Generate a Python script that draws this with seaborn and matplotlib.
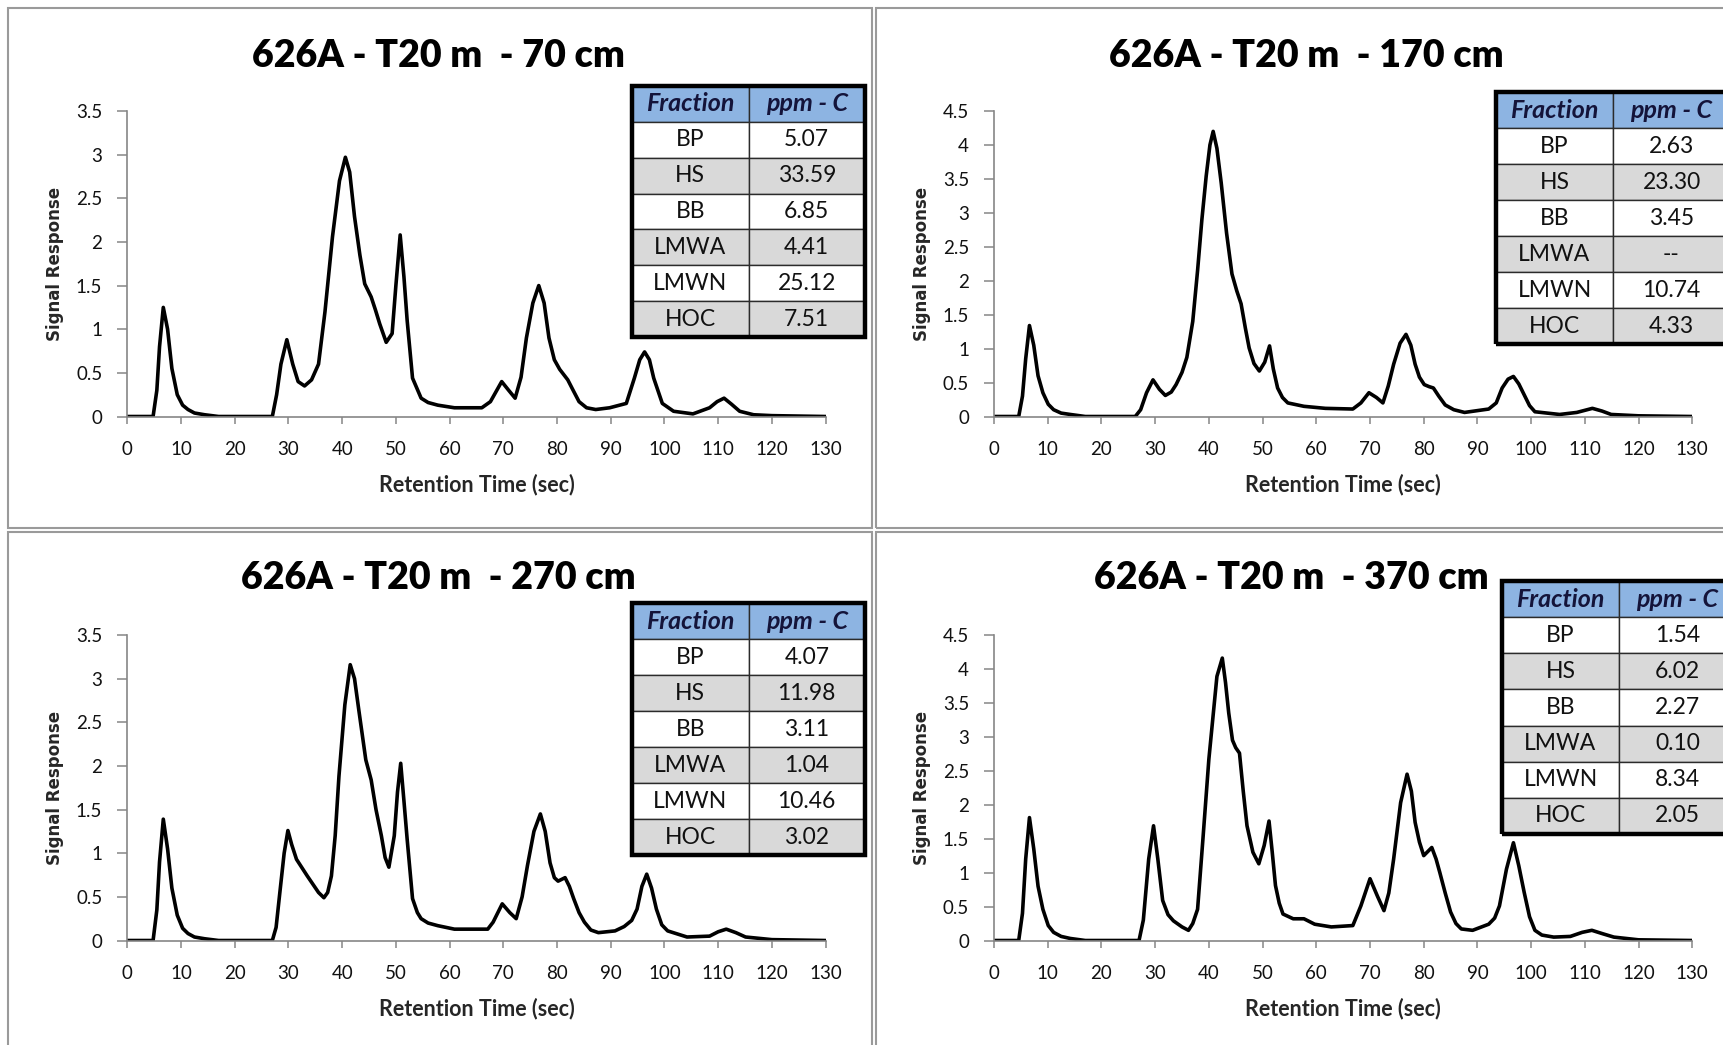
import matplotlib
matplotlib.use("Agg")
import matplotlib.pyplot as plt
from matplotlib.patches import Rectangle
from matplotlib.ticker import FuncFormatter
import seaborn as sns
import pandas as pd

# chromatogram traces: (retention time in s, signal response)
trace_70 = [(0, 0), (4.8, 0), (5.5, 0.3), (6.0, 0.8), (6.7, 1.25), (7.5, 1.0), (8.3, 0.55), (9.3, 0.25),
            (10.3, 0.13), (11.3, 0.08), (12.5, 0.04), (14.4, 0.02), (17, 0), (27, 0), (27.8, 0.25),
            (28.6, 0.6), (29.7, 0.88), (30.8, 0.6), (31.8, 0.4), (33.0, 0.35), (34.3, 0.42), (35.6, 0.6),
            (36.8, 1.2), (38.2, 2.06), (39.5, 2.7), (40.6, 2.97), (41.4, 2.8), (42.3, 2.29), (43.3, 1.85),
            (44.2, 1.52), (45.4, 1.37), (46.2, 1.22), (47.0, 1.06), (48.2, 0.85), (49.3, 0.95), (50.0, 1.5),
            (50.8, 2.08), (51.5, 1.6), (52.1, 1.1), (53.1, 0.44), (54.7, 0.21), (56, 0.16), (57.8, 0.13),
            (60.9, 0.10), (66.0, 0.10), (67.6, 0.17), (69.7, 0.40), (71.0, 0.3), (72.2, 0.21), (73.3, 0.45),
            (74.3, 0.9), (75.5, 1.3), (76.6, 1.5), (77.6, 1.3), (78.5, 0.9), (79.5, 0.65), (80.5, 0.54),
            (82.0, 0.42), (83.0, 0.3), (84.1, 0.17), (85.5, 0.1), (87.2, 0.08), (89.8, 0.1), (92.9, 0.15),
            (94.4, 0.44), (95.4, 0.65), (96.3, 0.74), (97.2, 0.65), (98.0, 0.44), (99.6, 0.15), (101.7, 0.06),
            (105.3, 0.03), (108.4, 0.1), (109.8, 0.17), (111.1, 0.21), (112.5, 0.14), (114.0, 0.06),
            (116.6, 0.02), (120, 0.01), (130, 0)]

trace_170 = [(0, 0), (4.6, 0), (5.3, 0.3), (5.9, 0.85), (6.6, 1.34), (7.4, 1.05), (8.2, 0.6), (9.1, 0.35),
             (10.1, 0.18), (11.1, 0.10), (12.5, 0.05), (14.2, 0.03), (17, 0), (26.3, 0), (27.3, 0.1),
             (28.4, 0.35), (29.6, 0.54), (30.8, 0.4), (31.9, 0.31), (33.0, 0.36), (33.9, 0.47), (35.0, 0.65),
             (35.9, 0.87), (37.0, 1.4), (37.9, 2.15), (38.7, 2.9), (39.5, 3.54), (40.2, 4.0), (40.8, 4.2),
             (41.5, 3.95), (42.3, 3.44), (43.3, 2.7), (44.3, 2.10), (45.2, 1.85), (46.0, 1.66), (46.8, 1.3),
             (47.5, 1.01), (48.4, 0.78), (49.4, 0.67), (50.4, 0.8), (51.3, 1.04), (52.0, 0.7), (52.8, 0.42),
             (53.7, 0.28), (54.7, 0.20), (57.7, 0.15), (61.7, 0.12), (66.8, 0.11), (68.3, 0.20), (69.8, 0.35),
             (71.2, 0.28), (72.4, 0.2), (73.4, 0.45), (74.4, 0.77), (75.6, 1.08), (76.7, 1.21), (77.6, 1.05),
             (78.4, 0.77), (79.2, 0.58), (80.1, 0.47), (81.0, 0.44), (81.8, 0.42), (82.8, 0.3), (84.0, 0.17),
             (85.6, 0.1), (87.6, 0.06), (92.1, 0.11), (93.5, 0.2), (94.6, 0.42), (95.7, 0.55), (96.7, 0.59),
             (97.7, 0.48), (98.7, 0.32), (99.7, 0.16), (100.7, 0.07), (105.3, 0.03), (108.5, 0.06),
             (111.4, 0.12), (113.2, 0.08), (114.9, 0.03), (120, 0.01), (130, 0)]

trace_270 = [(0, 0), (4.8, 0), (5.5, 0.35), (6.0, 0.9), (6.7, 1.39), (7.5, 1.05), (8.3, 0.6), (9.3, 0.29),
             (10.3, 0.14), (11.3, 0.08), (12.5, 0.04), (14.4, 0.02), (17, 0), (27, 0), (27.7, 0.15),
             (28.4, 0.55), (29.2, 1.0), (29.9, 1.26), (30.6, 1.1), (31.5, 0.93), (33.5, 0.74), (35.6, 0.55),
             (36.6, 0.49), (37.3, 0.55), (38.0, 0.74), (38.7, 1.2), (39.4, 1.88), (40.5, 2.7), (41.5, 3.16),
             (42.3, 3.0), (43.1, 2.64), (44.4, 2.07), (45.4, 1.84), (46.3, 1.5), (47.3, 1.2), (48.0, 0.95),
             (48.7, 0.84), (49.7, 1.2), (50.3, 1.7), (50.9, 2.03), (51.5, 1.6), (52.1, 1.16), (53.1, 0.48),
             (54.0, 0.32), (54.7, 0.25), (56, 0.2), (57.8, 0.17), (60.9, 0.13), (67.1, 0.13), (68.1, 0.21),
             (69.8, 0.42), (71.2, 0.32), (72.4, 0.25), (73.5, 0.5), (74.5, 0.86), (75.7, 1.25), (76.9, 1.45),
             (77.8, 1.25), (78.7, 0.89), (79.5, 0.72), (80.2, 0.68), (81.5, 0.72), (82.3, 0.62), (83.1, 0.48),
             (84.1, 0.32), (85.1, 0.21), (86.3, 0.12), (87.7, 0.09), (90.8, 0.11), (92.5, 0.16), (93.9, 0.23),
             (94.9, 0.36), (95.8, 0.62), (96.7, 0.76), (97.6, 0.6), (98.5, 0.36), (99.5, 0.18), (100.6, 0.11),
             (104.2, 0.04), (108.4, 0.05), (110, 0.1), (111.5, 0.13), (113.3, 0.09), (115.1, 0.04),
             (120, 0.01), (130, 0)]

trace_370 = [(0, 0), (4.6, 0), (5.3, 0.4), (5.9, 1.2), (6.6, 1.81), (7.4, 1.35), (8.2, 0.8), (9.1, 0.46),
             (10.1, 0.22), (11.1, 0.12), (12.5, 0.06), (14.2, 0.03), (17, 0), (27, 0), (27.8, 0.3),
             (28.8, 1.2), (29.7, 1.69), (30.5, 1.2), (31.4, 0.59), (32.4, 0.38), (33.4, 0.29), (35.0, 0.2),
             (36.2, 0.15), (37.0, 0.25), (37.9, 0.46), (38.9, 1.5), (40.0, 2.67), (41.5, 3.89), (42.5, 4.16),
             (43.1, 3.8), (43.7, 3.35), (44.4, 2.95), (45.0, 2.84), (45.7, 2.76), (46.4, 2.2), (47.1, 1.69),
             (48.2, 1.3), (49.3, 1.13), (50.3, 1.4), (51.2, 1.76), (51.8, 1.3), (52.4, 0.81), (53.1, 0.55),
             (53.8, 0.39), (55.7, 0.32), (57.7, 0.32), (59.7, 0.24), (62.8, 0.2), (66.8, 0.22), (68.3, 0.51),
             (70.0, 0.91), (71.4, 0.65), (72.6, 0.44), (73.5, 0.7), (74.4, 1.2), (75.7, 2.03), (76.9, 2.45),
             (77.7, 2.2), (78.4, 1.74), (79.2, 1.45), (80.0, 1.25), (81.5, 1.37), (82.3, 1.2), (83.0, 1.0),
             (84.0, 0.7), (85.0, 0.42), (86.0, 0.25), (87.0, 0.17), (89.1, 0.15), (92.1, 0.24), (93.2, 0.33),
             (94.1, 0.51), (95.4, 1.05), (96.7, 1.44), (97.7, 1.1), (98.7, 0.71), (99.7, 0.35), (100.7, 0.15),
             (102, 0.08), (104.2, 0.05), (107.3, 0.06), (109.5, 0.12), (111.3, 0.15), (113.3, 0.1),
             (115.4, 0.05), (120, 0.01), (130, 0)]

site = "626A - T20 m"
depths = ["70 cm", "170 cm", "270 cm", "370 cm"]
y_max = [3.5, 4.5, 3.5, 4.5]
x_ticks = list(range(0, 131, 10))

fractions = ["BP", "HS", "BB", "LMWA", "LMWN", "HOC"]
ppm_70 = ["5.07", "33.59", "6.85", "4.41", "25.12", "7.51"]
ppm_170 = ["2.63", "23.30", "3.45", "--", "10.74", "4.33"]
ppm_270 = ["4.07", "11.98", "3.11", "1.04", "10.46", "3.02"]
ppm_370 = ["1.54", "6.02", "2.27", "0.10", "8.34", "2.05"]

W, H = 1723, 1045


def box(x0, y0, x1, y1):
    # pixel rectangle -> figure fraction [left, bottom, width, height]
    return [x0 / W, 1 - y1 / H, (x1 - x0) / W, (y1 - y0) / H]


# layout in pixels: axes, title centre, table, panel frame
panels = [
    dict(trace=trace_70, ppm=ppm_70, ax=(127.3, 111, 825.6, 416.5), title=(438, 56),
         table=(632, 86, 865, 337), frame=(8, 8, 872, 528)),
    dict(trace=trace_170, ppm=ppm_170, ax=(994, 111, 1692.3, 416.5), title=(1306, 56),
         table=(1496, 92, 1730, 344), frame=(876, 8, 1760, 528)),
    dict(trace=trace_270, ppm=ppm_270, ax=(127.3, 635, 825.6, 940.5), title=(438, 578),
         table=(632, 603, 865, 855), frame=(8, 532, 872, 1080)),
    dict(trace=trace_370, ppm=ppm_370, ax=(994, 635, 1692.3, 940.5), title=(1291, 578),
         table=(1502, 581, 1736, 834), frame=(876, 532, 1760, 1080)),
]

sns.set_style("white")
plt.rcParams['font.family'] = ['Lato', 'DejaVu Sans']

fig = plt.figure(figsize=(W / 100, H / 100), dpi=100)
fig.patch.set_facecolor("white")

axis_grey = "#868686"
header_blue = "#8DB4E2"
row_grey = "#D9D9D9"

for i, p in enumerate(panels):
    # panel frame
    x0, y0, x1, y1 = p["frame"]
    fig.patches.append(Rectangle((x0 / W, 1 - y1 / H), (x1 - x0) / W, (y1 - y0) / H,
                                 transform=fig.transFigure, fill=False, lw=1.5,
                                 edgecolor="#9A9A9A", zorder=0))

    ax = fig.add_axes(box(*p["ax"]))
    df = pd.DataFrame(p["trace"], columns=["time", "signal"])
    sns.lineplot(data=df, x="time", y="signal", ax=ax, color="black", lw=2.6)

    ax.set_xlim(0, 130)
    ax.set_ylim(0, y_max[i])
    ax.set_xticks(x_ticks)
    ax.set_yticks([k * 0.5 for k in range(int(y_max[i] / 0.5) + 1)])
    ax.yaxis.set_major_formatter(FuncFormatter(lambda v, pos: f"{v:g}"))
    sns.despine(ax=ax)
    for side in ["left", "bottom"]:
        ax.spines[side].set_color(axis_grey)
        ax.spines[side].set_linewidth(1.2)
    ax.tick_params(axis="x", direction="out", length=5, width=1.1, color=axis_grey,
                   labelsize=13.5, labelcolor="#111111", pad=12.5, bottom=True)
    ax.tick_params(axis="y", direction="out", length=7, width=1.1, color=axis_grey,
                   labelsize=13.5, labelcolor="#111111", pad=11, left=True)

    ax.set_xlabel("Retention Time (sec)", fontsize=15.5, fontweight="bold", va="center")
    ax.xaxis.set_label_coords(0.5, -0.224)
    ax.set_ylabel("Signal Response", fontsize=12, fontweight="bold", va="center",
                  family=["DejaVu Sans"])
    ax.yaxis.set_label_coords(-0.1035, 0.5)

    fig.text(p["title"][0] / W, 1 - p["title"][1] / H, f"{site}  - {depths[i]}",
             ha="center", va="center", fontsize=27, fontweight="heavy", color="black")

    # fraction table
    tax = fig.add_axes(box(*p["table"]))
    tax.axis("off")
    cells = [["Fraction", "ppm - C"]] + [[f, v] for f, v in zip(fractions, p["ppm"])]
    colours = [[header_blue] * 2] + [["white" if r % 2 == 0 else row_grey] * 2 for r in range(6)]
    tbl = tax.table(cellText=cells, cellColours=colours, cellLoc="center", bbox=[0, 0, 1, 1])
    tbl.auto_set_font_size(False)
    for (r, c), cell in tbl.get_celld().items():
        cell.set_edgecolor("#2b2b2b")
        cell.set_linewidth(1.0)
        txt = cell.get_text()
        if r == 0:
            txt.set_fontsize(18)
            txt.set_fontweight("bold")
            txt.set_fontstyle("italic")
            txt.set_color("#14143a")
        else:
            txt.set_fontsize(16.5)
            txt.set_color("#111111")
    tax.add_patch(Rectangle((0, 0), 1, 1, transform=tax.transAxes, fill=False,
                            lw=3.2, edgecolor="black", clip_on=False))

fig.savefig("out.png", dpi=100, facecolor="white")
